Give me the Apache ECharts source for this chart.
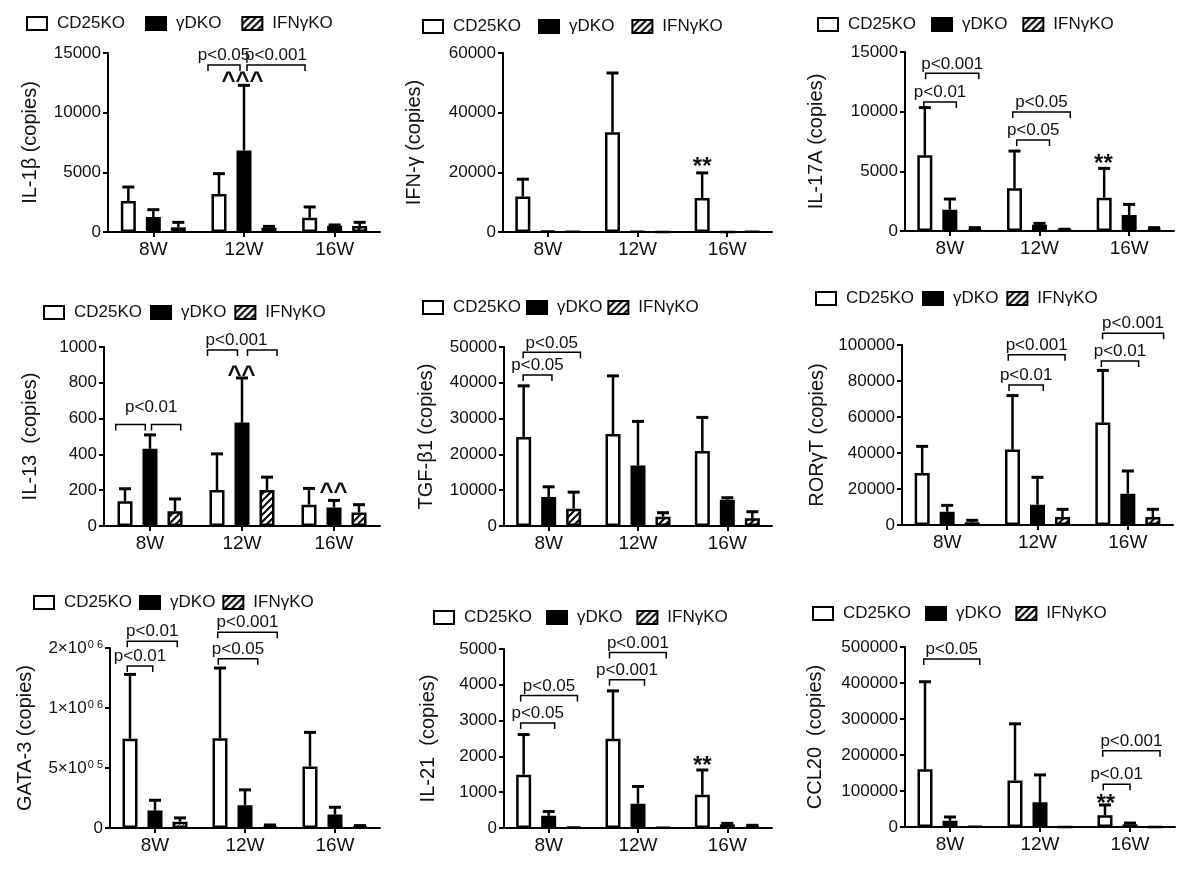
<!DOCTYPE html>
<html>
<head>
<meta charset="utf-8">
<script src="https://cdn.jsdelivr.net/npm/echarts@6/dist/echarts.min.js"></script>
<style>html,body{margin:0;padding:0;background:#fff}#c{width:1200px;height:870px}</style>
</head>
<body>
<div id="c"></div>
<script>
// ---------- data ----------
const WEEKS = ['8W', '12W', '16W'];
const GROUPS = ['CD25KO', 'γDKO', 'IFNγKO'];

// rows: CD25KO, γDKO, IFNγKO ; columns: 8W, 12W, 16W
const IL1B_MEAN   = [[2600, 3180, 1200], [1260, 6840, 530], [390, 360, 500]];
const IL1B_UPPER  = [[3770, 4890, 2100], [1870, 12290, 590], [810, 470, 810]];
const IFNG_MEAN   = [[11900, 33400, 11400], [300, 100, 0], [100, 0, 100]];
const IFNG_UPPER  = [[17700, 53300, 19800], [300, 100, 0], [100, 0, 100]];
const IL17A_MEAN  = [[6340, 3580, 2790], [1790, 530, 1340], [170, 110, 170]];
const IL17A_UPPER = [[10340, 6700, 5250], [2680, 640, 2230], [280, 150, 280]];
const IL13_MEAN   = [[138, 201, 119], [431, 578, 104], [82, 201, 76]];
const IL13_UPPER  = [[208, 403, 210], [509, 827, 143], [151, 273, 119]];
const TGFB1_MEAN  = [[24860, 25700, 20970], [8080, 16880, 7330], [4840, 2600, 2130]];
const TGFB1_UPPER = [[39150, 41930, 30330], [10950, 29220, 7900], [9460, 3710, 3990]];
const RORGT_MEAN  = [[28900, 41900, 56900], [7400, 11300, 17400], [1500, 4400, 4400]];
const RORGT_UPPER = [[43700, 71900, 85900], [10900, 26500, 30000], [2600, 8700, 8700]];
const GATA3_MEAN  = [[744000, 747000, 513000], [145000, 190000, 112000], [53000, 17000, 11000]];
const GATA3_UPPER = [[1280000, 1333000, 797000], [231000, 318000, 173000], [84000, 25000, 20000]];
const IL21_MEAN   = [[1490, 2490, 930], [340, 680, 100], [30, 20, 60]];
const IL21_UPPER  = [[2610, 3830, 1620], [460, 1160, 130], [30, 20, 75]];
const CCL20_MEAN  = [[160500, 129000, 32500], [17600, 68600, 7400], [1900, 0, 0]];
const CCL20_UPPER = [[403500, 286600, 61200], [27800, 144700, 11000], [1900, 0, 0]];

// GATA-3 tick labels
const GATA3_TICK_BASE = ['0', '5×10', '1×10', '2×10'];
const GATA3_TICK_EXP  = ['', '0 5', '0 6', '0 6'];

// significance brackets: [week, fromBar, toBar, value, label]  (bar 0 = CD25KO, 1 = γDKO, 2 = IFNγKO)
const IL1B_BRACKETS  = [[1, -0.44, 0.84, 14000, 'p<0.05'], [1, 1.12, 3.44, 14000, 'p<0.001']];
const IFNG_BRACKETS  = [];
const IL17A_BRACKETS = [[0, -0.04, 1.26, 10810, 'p<0.01'], [0, 0.03, 2.16, 13210, 'p<0.001'],
                        [1, 0.09, 1.4, 7630, 'p<0.05'], [1, -0.07, 2.23, 9970, 'p<0.05']];
const IL13_BRACKETS  = [[0, -0.37, 0.81, 567, ''], [0, 1.06, 2.23, 567, ''],
                        [1, -0.38, 0.82, 983, ''], [1, 1.22, 2.4, 983, '']];
const TGFB1_BRACKETS = [[0, -0.02, 1.13, 42200, 'p<0.05'], [0, -0.02, 2.27, 48500, 'p<0.05']];
const RORGT_BRACKETS = [[1, -0.14, 1.23, 77800, 'p<0.01'], [1, -0.17, 2.1, 94600, 'p<0.001'],
                        [2, -0.06, 1.43, 91100, 'p<0.01'], [2, -0.01, 2.43, 106500, 'p<0.001']];
const GATA3_BRACKETS = [[0, -0.11, 0.91, 1349000, 'p<0.01'], [0, -0.11, 1.89, 1556000, 'p<0.01'],
                        [1, -0.07, 1.51, 1411000, 'p<0.05'], [1, -0.09, 2.29, 1631000, 'p<0.001']];
const IL21_BRACKETS  = [[0, -0.12, 1.24, 2930, 'p<0.05'], [0, -0.12, 2.15, 3700, 'p<0.05'],
                        [1, -0.14, 1.26, 4140, 'p<0.001'], [1, -0.14, 2.13, 4900, 'p<0.001']];
const CCL20_BRACKETS = [[0, -0.05, 2.19, 466600, 'p<0.05'], [2, -0.07, 1.0, 118700, 'p<0.01'],
                        [2, -0.09, 2.2, 211500, 'p<0.001']];

// free marks: [week, barPosition, value, text]
const IL1B_MARKS  = [[1, 0.94, 12630, '^^^']];
const IFNG_MARKS  = [[2, 0, 22800, '**']];
const IL17A_MARKS = [[2, -0.03, 5840, '**']];
const IL13_MARKS  = [[0, 1.05, 615, 'p<0.01'], [1, 0.78, 990, 'p<0.001'], [1, 0.98, 844, '^^'], [2, 0.98, 190, '^^']];
const TGFB1_MARKS = [];
const RORGT_MARKS = [];
const GATA3_MARKS = [];
const IL21_MARKS  = [[2, 0, 1812, '**']];
const CCL20_MARKS = [[2, 0.03, 70500, '**']];

// ---------- layout / style ----------
const FONT = '"Liberation Sans", Arial, Helvetica, sans-serif';
const INK = '#111';
const BAR_W = 15, BAR_STEP = 25;

function makeHatch(s, lw, color) {
  const c = document.createElement('canvas');
  c.width = s; c.height = s;
  const g = c.getContext('2d');
  g.fillStyle = '#fff'; g.fillRect(0, 0, s, s);
  g.strokeStyle = color; g.lineWidth = lw; g.lineCap = 'square';
  g.beginPath();
  g.moveTo(0, s); g.lineTo(s, 0);
  g.moveTo(-1, 1); g.lineTo(1, -1);
  g.moveTo(s - 1, s + 1); g.lineTo(s + 1, s - 1);
  g.stroke();
  return { image: c, repeat: 'repeat' };
}
const HATCH = makeHatch(7, 2, '#000');
const HATCH_FINE = makeHatch(4, 1, '#555');

const PANELS = [
  { name: 'IL-1β (copies)', mean: IL1B_MEAN, upper: IL1B_UPPER, max: 15000, interval: 5000,
    brackets: IL1B_BRACKETS, marks: IL1B_MARKS,
    grid: { left: 108, top: 53, width: 272, height: 179 }, nameGap: 68, legend: { left: 26, top: 15, gap: 20 } },
  { name: 'IFN-γ (copies)', mean: IFNG_MEAN, upper: IFNG_UPPER, max: 60000, interval: 20000,
    brackets: IFNG_BRACKETS, marks: IFNG_MARKS,
    grid: { left: 503, top: 53, width: 269, height: 179 }, nameGap: 79, legend: { left: 422, top: 18, gap: 17 } },
  { name: 'IL-17A (copies)', mean: IL17A_MEAN, upper: IL17A_UPPER, max: 15000, interval: 5000,
    brackets: IL17A_BRACKETS, marks: IL17A_MARKS,
    grid: { left: 905, top: 52, width: 269, height: 179 }, nameGap: 79, legend: { left: 817, top: 16, gap: 15 } },
  { name: 'IL-13  (copies)', mean: IL13_MEAN, upper: IL13_UPPER, max: 1000, interval: 200,
    brackets: IL13_BRACKETS, marks: IL13_MARKS,
    grid: { left: 104, top: 347, width: 276, height: 179 }, nameGap: 64, legend: { left: 43, top: 304, gap: 8 } },
  { name: 'TGF-β1 (copies)', mean: TGFB1_MEAN, upper: TGFB1_UPPER, max: 50000, interval: 10000,
    brackets: TGFB1_BRACKETS, marks: TGFB1_MARKS,
    grid: { left: 504, top: 347, width: 268, height: 179 }, nameGap: 68, legend: { left: 422, top: 299, gap: 5 } },
  { name: 'RORγT (copies)', mean: RORGT_MEAN, upper: RORGT_UPPER, max: 100000, interval: 20000,
    brackets: RORGT_BRACKETS, marks: RORGT_MARKS,
    grid: { left: 902, top: 345, width: 271, height: 180 }, nameGap: 75, legend: { left: 815, top: 290, gap: 8 } },
  { name: 'GATA-3 (copies)', mean: GATA3_MEAN, upper: GATA3_UPPER, max: 1500000, interval: 500000,
    brackets: GATA3_BRACKETS, marks: GATA3_MARKS, fine: true,
    grid: { left: 110, top: 648, width: 270, height: 180 }, nameGap: 75, legend: { left: 33, top: 594, gap: 7 } },
  { name: 'IL-21  (copies)', mean: IL21_MEAN, upper: IL21_UPPER, max: 5000, interval: 1000,
    brackets: IL21_BRACKETS, marks: IL21_MARKS,
    grid: { left: 504, top: 649, width: 268, height: 179 }, nameGap: 66, legend: { left: 433, top: 609, gap: 14 } },
  { name: 'CCL20  (copies)', mean: CCL20_MEAN, upper: CCL20_UPPER, max: 500000, interval: 100000,
    brackets: CCL20_BRACKETS, marks: CCL20_MARKS,
    grid: { left: 905, top: 647, width: 270, height: 180 }, nameGap: 80, legend: { left: 812, top: 605, gap: 14 } }
];

const option = { animation: false, backgroundColor: '#fff', grid: [], xAxis: [], yAxis: [], legend: [], series: [] };

PANELS.forEach((p, i) => {
  option.grid.push(Object.assign({ containLabel: false, outerBoundsMode: 'none' }, p.grid));
  option.xAxis.push({
    type: 'category', gridIndex: i, data: WEEKS,
    axisLine: { lineStyle: { color: '#000', width: 2 } },
    axisTick: { show: true, alignWithLabel: true, length: 5, lineStyle: { color: '#000', width: 2 } },
    axisLabel: { color: INK, fontSize: 19, fontFamily: FONT, margin: 8 },
    splitLine: { show: false }
  });
  const yLabel = { color: INK, fontSize: 17, fontFamily: FONT, margin: 7, formatter: v => String(v) };
  if (p.name.indexOf('GATA') === 0) {
    yLabel.formatter = v => {
      const k = Math.round(v / 500000);
      return GATA3_TICK_EXP[k] ? '{b|' + GATA3_TICK_BASE[k] + '}{s|' + GATA3_TICK_EXP[k] + '}' : GATA3_TICK_BASE[k];
    };
    yLabel.rich = {
      b: { fontSize: 17, fontFamily: FONT, color: INK },
      s: { fontSize: 11, fontFamily: FONT, color: INK, verticalAlign: 'top', padding: [0, 0, 6, 1] }
    };
  }
  option.yAxis.push({
    type: 'value', gridIndex: i, min: 0, max: p.max, interval: p.interval,
    name: p.name, nameLocation: 'middle', nameRotate: 90, nameGap: p.nameGap,
    nameTextStyle: { fontSize: 20, fontFamily: FONT, color: INK },
    axisLine: { show: true, lineStyle: { color: '#000', width: 2 } },
    axisTick: { show: true, length: 5, lineStyle: { color: '#000', width: 2 } },
    axisLabel: yLabel,
    splitLine: { show: false }
  });
  option.legend.push({
    left: p.legend.left, top: p.legend.top, itemGap: p.legend.gap, padding: 0,
    orient: 'horizontal', icon: 'rect', itemWidth: 20, itemHeight: 13, selectedMode: false,
    data: GROUPS,
    itemStyle: { borderColor: '#000', borderWidth: 2 },
    textStyle: { fontSize: 17, fontFamily: FONT, color: INK, padding: [0, 0, 0, 5] }
  });
  const fills = ['#fff', '#000', p.fine ? HATCH_FINE : HATCH];
  GROUPS.forEach((g, k) => {
    option.series.push({
      type: 'bar', name: g, xAxisIndex: i, yAxisIndex: i, data: p.mean[k],
      barWidth: BAR_W, barGap: '66.67%', silent: true, z: 2,
      itemStyle: { color: fills[k], borderColor: '#000', borderWidth: 2.5 }
    });
  });
  // error bars (upper only)
  const errData = [];
  GROUPS.forEach((g, k) => WEEKS.forEach((w, j) => errData.push([j, p.upper[k][j], p.mean[k][j], k])));
  option.series.push({
    type: 'custom', xAxisIndex: i, yAxisIndex: i, data: errData, silent: true, z: 3, clip: false,
    renderItem: (params, api) => {
      const j = api.value(0), up = api.value(1), m = api.value(2), k = api.value(3);
      if (!(up > m)) return { type: 'group', children: [] };
      const top = api.coord([j, up]), base = api.coord([j, m]);
      const x = top[0] + (k - 1) * BAR_STEP;
      return {
        type: 'group', children: [
          { type: 'line', shape: { x1: x, y1: base[1], x2: x, y2: top[1] }, style: { stroke: '#000', lineWidth: 2.5 } },
          { type: 'line', shape: { x1: x - 6, y1: top[1], x2: x + 6, y2: top[1] }, style: { stroke: '#000', lineWidth: 3 } }
        ]
      };
    }
  });
  // significance brackets
  const br = p.brackets;
  option.series.push({
    type: 'custom', xAxisIndex: i, yAxisIndex: i, silent: true, z: 4, clip: false,
    data: br.map(b => [b[0], b[3], b[1], b[2]]),
    renderItem: (params, api) => {
      const b = br[params.dataIndex];
      const c = api.coord([b[0], b[3]]);
      const x1 = c[0] + (b[1] - 1) * BAR_STEP, x2 = c[0] + (b[2] - 1) * BAR_STEP, y = c[1];
      const children = [
        { type: 'polyline', shape: { points: [[x1, y + 6], [x1, y], [x2, y], [x2, y + 6]] },
          style: { stroke: '#000', lineWidth: 1.5, fill: null } }
      ];
      if (b[4]) children.push({ type: 'text', x: (x1 + x2) / 2, y: y - 1,
        style: { text: b[4], fill: INK, font: '17px ' + FONT, textAlign: 'center', textVerticalAlign: 'bottom' } });
      return { type: 'group', children: children };
    }
  });
  // free marks (asterisks, carets, p-values)
  const mk = p.marks;
  option.series.push({
    type: 'custom', xAxisIndex: i, yAxisIndex: i, silent: true, z: 4, clip: false,
    data: mk.map(m => [m[0], m[2], m[1]]),
    renderItem: (params, api) => {
      const m = mk[params.dataIndex];
      const c = api.coord([m[0], m[2]]);
      const ch = m[3].charAt(0);
      const big = (ch === '^' || ch === '*');
      const shift = ch === '^' ? 12 : (ch === '*' ? 15 : 0);
      return { type: 'text', x: c[0] + (m[1] - 1) * BAR_STEP, y: c[1] + shift,
        style: { text: m[3], fill: INK, font: (big ? 'bold 24px ' : '17px ') + FONT, textAlign: 'center', textVerticalAlign: 'bottom' } };
    }
  });
});

const chart = echarts.init(document.getElementById('c'), null, { renderer: 'canvas' });
chart.setOption(option);
</script>
</body>
</html>
